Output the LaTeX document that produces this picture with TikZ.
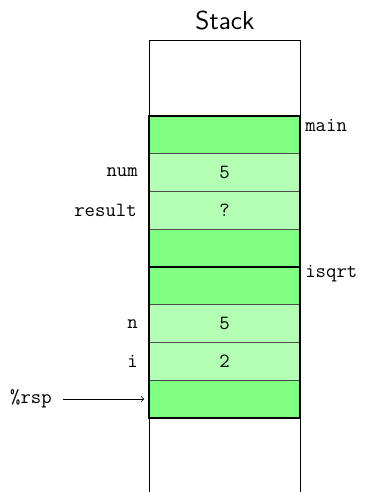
\documentclass[tikz,border=0pt]{standalone}
\usetikzlibrary{positioning}
\definecolor{framegreen}{HTML}{80FF80}
\definecolor{vargreen}{HTML}{B3FFB3}
\newcommand{\cellfont}{\ttfamily\fontsize{11.2}{13}\selectfont}
\begin{document}
\begin{tikzpicture}[x=0.01953cm,y=-0.01953cm,
  cellbox/.style={draw=black!70,line width=0.5pt,minimum width=2.95cm,minimum height=0.737cm,inner sep=0pt,outer sep=0pt,font=\cellfont},
  framecell/.style={cellbox,fill=framegreen},
  varcell/.style={cellbox,fill=vargreen},
  framebox/.style={draw=black,line width=1pt},
  varname/.style={anchor=east,font=\cellfont,inner sep=0pt},
  framename/.style={anchor=base west,font=\cellfont,inner sep=0pt}]
  \useasboundingbox (0,0) rectangle (368,492);
  % title
  \node[font=\sffamily\Large] (title) at (225,21) {Stack};
  % open stack column
  \coordinate (tl) at (149,40);
  \coordinate (tr) at (300,40);
  \coordinate (bl) at (149,492);
  \coordinate (br) at (300,492);
  \draw[line width=0.5pt] (bl) -- (tl) -- (tr) -- (br);
  % cells
  \node[framecell] (c1) at (224.5,134.9) {};
  \node[varcell]   (c2) at (224.5,172.6) {5};
  \node[varcell]   (c3) at (224.5,210.4) {?};
  \node[framecell] (c4) at (224.5,248.1) {};
  \node[framecell] (c5) at (224.5,285.9) {};
  \node[varcell]   (c6) at (224.5,323.6) {5};
  \node[varcell]   (c7) at (224.5,361.4) {2};
  \node[framecell] (c8) at (224.5,399.1) {};
  % frame outlines
  \draw[framebox] (c1.north west) rectangle (c4.south east);
  \draw[framebox] (c5.north west) rectangle (c8.south east);
  % frame names
  \node[framename] (fmain) at (305,131) {main};
  \node[framename] (fisqrt) at (305,277) {isqrt};
  % variable names
  \node[varname] (lnum) at (138,172.6) {num};
  \node[varname] (lres) at (137,210.4) {result};
  \node[varname] (ln) at (138,323.6) {n};
  \node[varname] (li) at (138,361.4) {i};
  % stack pointer
  \node[varname] (rsp) at (52,399.1) {\%rsp};
  \draw[->,line width=0.4pt,shorten <=6pt,shorten >=2.6pt] (rsp.east) -- (c8.west);
\end{tikzpicture}
\end{document}
